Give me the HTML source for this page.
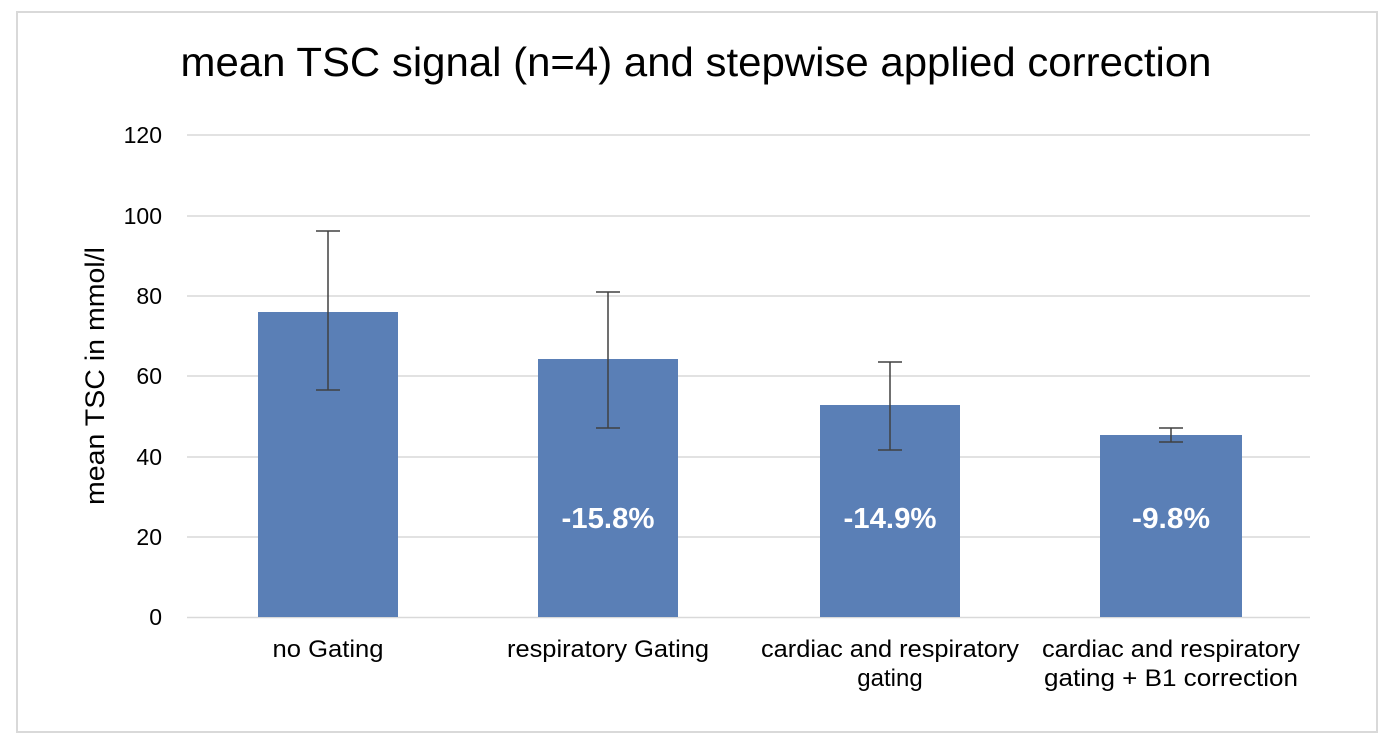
<!DOCTYPE html>
<html><head><meta charset="utf-8"><style>body{margin:0;background:#fff}</style></head><body>
<svg width="1392" height="750" xmlns="http://www.w3.org/2000/svg" font-family="Liberation Sans, Arial, sans-serif">
<rect x="0" y="0" width="1392" height="750" fill="#fff"/>
<rect x="17" y="12" width="1360" height="720" fill="#fff" stroke="#d9d9d9" stroke-width="2"/>
<text x="696" y="76" font-size="41" text-anchor="middle" fill="#000" textLength="1031" lengthAdjust="spacingAndGlyphs">mean TSC signal (n=4) and stepwise applied correction</text>
<g stroke="#d9d9d9" stroke-width="1.5">
<line x1="187" y1="135" x2="1310" y2="135"/>
<line x1="187" y1="216" x2="1310" y2="216"/>
<line x1="187" y1="296" x2="1310" y2="296"/>
<line x1="187" y1="376" x2="1310" y2="376"/>
<line x1="187" y1="457" x2="1310" y2="457"/>
<line x1="187" y1="537" x2="1310" y2="537"/>
<line x1="187" y1="617.5" x2="1310" y2="617.5"/>
</g>
<g font-size="23" text-anchor="end" fill="#000">
<text x="162" y="143">120</text><text x="162" y="224">100</text><text x="162" y="304">80</text>
<text x="162" y="384">60</text><text x="162" y="465">40</text><text x="162" y="545">20</text><text x="162" y="625">0</text>
</g>
<text transform="translate(104,376) rotate(-90)" font-size="27" text-anchor="middle" textLength="258" lengthAdjust="spacingAndGlyphs">mean TSC in mmol/l</text>
<g fill="#5a7fb6">
<rect x="258" y="312" width="140" height="305"/>
<rect x="538" y="359" width="140" height="258"/>
<rect x="820" y="405" width="140" height="212"/>
<rect x="1100" y="435" width="142" height="182"/>
</g>
<g stroke="#404040" stroke-width="1.5">
<line x1="328" y1="231" x2="328" y2="390"/><line x1="316" y1="231" x2="340" y2="231"/><line x1="316" y1="390" x2="340" y2="390"/>
<line x1="608" y1="292" x2="608" y2="428"/><line x1="596" y1="292" x2="620" y2="292"/><line x1="596" y1="428" x2="620" y2="428"/>
<line x1="890" y1="362" x2="890" y2="450"/><line x1="878" y1="362" x2="902" y2="362"/><line x1="878" y1="450" x2="902" y2="450"/>
<line x1="1171" y1="428" x2="1171" y2="442"/><line x1="1159" y1="428" x2="1183" y2="428"/><line x1="1159" y1="442" x2="1183" y2="442"/>
</g>
<g font-size="29" font-weight="bold" fill="#fff" text-anchor="middle">
<text x="608" y="528" textLength="93" lengthAdjust="spacingAndGlyphs">-15.8%</text><text x="890" y="528" textLength="93" lengthAdjust="spacingAndGlyphs">-14.9%</text><text x="1171" y="528" textLength="78" lengthAdjust="spacingAndGlyphs">-9.8%</text>
</g>
<g font-size="24" text-anchor="middle" fill="#000">
<text x="328" y="657" textLength="111" lengthAdjust="spacingAndGlyphs">no Gating</text>
<text x="608" y="657" textLength="202" lengthAdjust="spacingAndGlyphs">respiratory Gating</text>
<text x="890" y="657" textLength="258" lengthAdjust="spacingAndGlyphs">cardiac and respiratory</text><text x="890" y="686">gating</text>
<text x="1171" y="657" textLength="258" lengthAdjust="spacingAndGlyphs">cardiac and respiratory</text><text x="1171" y="686" textLength="254" lengthAdjust="spacingAndGlyphs">gating + B1 correction</text>
</g>
</svg>
</body></html>
